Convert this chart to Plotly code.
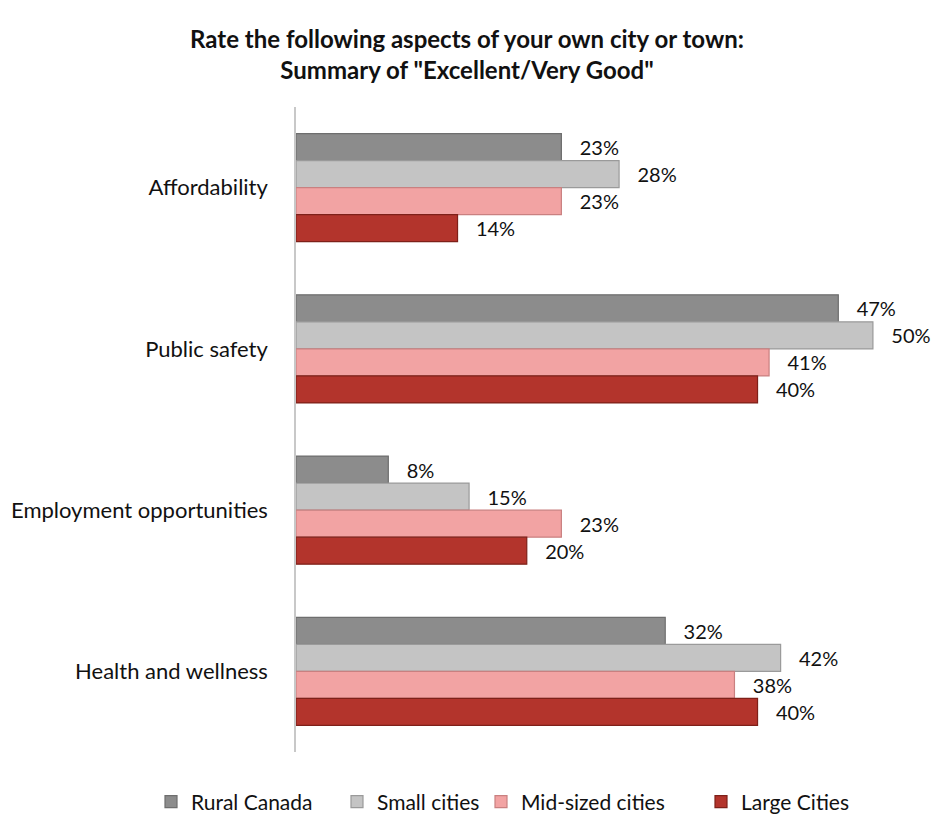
import plotly.graph_objects as go

categories = ["Affordability", "Public safety", "Employment opportunities", "Health and wellness"]
series_names = ["Rural Canada", "Small cities", "Mid-sized cities", "Large Cities"]
rural = [23, 47, 8, 32]
small = [28, 50, 15, 42]
mid = [23, 41, 23, 38]
large = [14, 40, 20, 40]
values = [rural, small, mid, large]
fills = ["#8c8c8c", "#c4c4c4", "#f2a3a3", "#b3342c"]
edges = ["#6e6e6e", "#9a9a9a", "#c98080", "#7e2019"]
legend_ids = ["legend", "legend", "legend2", "legend2"]

fig = go.Figure()
for name, vals, fc, ec, lg in zip(series_names, values, fills, edges, legend_ids):
    fig.add_trace(go.Bar(
        y=categories, x=vals, name=name, orientation="h", legend=lg,
        marker=dict(color=fc, line=dict(color=ec, width=1.2)),
        text=["\u00a0\u00a0\u00a0" + f"{v}%" for v in vals],
        textposition="outside", cliponaxis=False,
        textfont=dict(size=20, color="#111", family="Lato"),
    ))

W, H = 934, 815
l, r, t, b = 296, 38, 107, 63
leg_common = dict(orientation="h", xref="container", xanchor="left",
                  yref="container", y=(H - 802) / H, yanchor="middle",
                  font=dict(size=21, color="#111"), itemwidth=30, traceorder="normal",
                  entrywidthmode="pixels", bgcolor="rgba(0,0,0,0)")
fig.update_layout(
    width=W, height=H,
    margin=dict(l=l, r=r, t=t, b=b, autoexpand=False),
    paper_bgcolor="white", plot_bgcolor="white",
    barmode="group", bargap=0.33, bargroupgap=0,
    font=dict(family="Lato", size=21, color="#111"),
    title=dict(
        text="<b>Rate the following aspects of your own city or town:<br>Summary of \"Excellent/Very Good\"</b>",
        x=0.5, xref="container", xanchor="center",
        y=1 - 48 / H, yref="container", yanchor="middle",
        font=dict(size=24, family="Lato", color="#111"),
    ),
    xaxis=dict(range=[0, 52], showgrid=False, showticklabels=False, zeroline=False, showline=False, fixedrange=True),
    yaxis=dict(autorange="reversed", showgrid=False, showline=True, linecolor="#c8c8c8", linewidth=1.5,
               ticks="", ticklabelstandoff=22, tickfont=dict(size=22, color="#111")),
    legend=dict(x=151 / W, entrywidth=141, **leg_common),
    legend2=dict(x=481 / W, entrywidth=175, **leg_common),
    showlegend=True,
)
fig.write_html("out.html")
